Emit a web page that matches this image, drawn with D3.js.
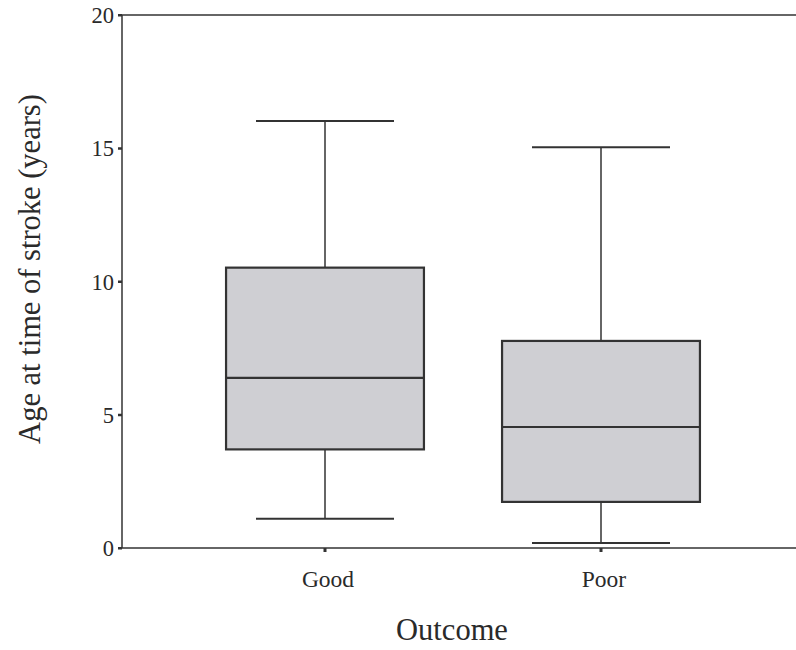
<!DOCTYPE html>
<html>
<head>
<meta charset="utf-8">
<script src="https://cdn.jsdelivr.net/npm/d3@7"></script>
<style>
  html, body { margin: 0; padding: 0; background: #fff; }
  svg text { font-family: "Liberation Serif", "Times New Roman", serif; fill: #2a2a2a; }
</style>
</head>
<body>
<svg id="chart" width="796" height="650"></svg>
<script>
const categories = ["Good", "Poor"];
const whiskerLow  = [1.1, 0.19];
const q1Values    = [3.7, 1.73];
const medians     = [6.38, 4.54];
const q3Values    = [10.52, 7.77];
const whiskerHigh = [16.02, 15.04];
const yTicks = [0, 5, 10, 15, 20];

(function () {
const svg = d3.select("#chart");
const mLeft = 122, mRight = 796, mTop = 15, mBottom = 548;

const y = d3.scaleLinear().domain([0, 20]).range([mBottom, mTop]);
const x = d3.scaleBand().domain(categories).range([187, 739]).padding(0);
const bw = x.bandwidth();
const boxW = bw * 0.717;
const capW = bw * 0.5;

const data = categories.map((c, i) => ({
  c, lo: whiskerLow[i], q1: q1Values[i], med: medians[i], q3: q3Values[i], hi: whiskerHigh[i]
}));

const stroke = "#333";

// frame lines: left axis, top, bottom
svg.append("line").attr("x1", mLeft).attr("x2", mLeft).attr("y1", y(20)).attr("y2", y(0))
  .attr("stroke", stroke).attr("stroke-width", 1.5);
svg.append("line").attr("x1", mLeft).attr("x2", mRight).attr("y1", y(20)).attr("y2", y(20))
  .attr("stroke", stroke).attr("stroke-width", 1.5);
svg.append("line").attr("x1", mLeft).attr("x2", mRight).attr("y1", y(0)).attr("y2", y(0))
  .attr("stroke", stroke).attr("stroke-width", 1.5);

// y ticks
const yt = svg.append("g");
yt.selectAll("rect").data(yTicks).join("rect")
  .attr("x", mLeft - 4).attr("y", d => y(d) - 1).attr("width", 4).attr("height", 2.5)
  .attr("fill", stroke);
yt.selectAll("text").data(yTicks).join("text")
  .attr("x", mLeft - 8).attr("y", d => y(d)).attr("dy", "0.36em")
  .attr("text-anchor", "end").attr("font-size", 22.5).text(d => d);

// x ticks
const xt = svg.append("g");
xt.selectAll("rect").data(categories).join("rect")
  .attr("x", d => x(d) + bw / 2 - 1.5).attr("y", y(0)).attr("width", 3).attr("height", 4)
  .attr("fill", stroke);
xt.selectAll("text").data(categories).join("text")
  .attr("x", d => x(d) + bw / 2 + 3).attr("y", y(0) + 39)
  .attr("text-anchor", "middle").attr("font-size", 23.5).text(d => d);

// boxes
const g = svg.append("g").selectAll("g").data(data).join("g");
const cx = d => x(d.c) + bw / 2;
g.append("line").attr("x1", cx).attr("x2", cx).attr("y1", d => y(d.hi)).attr("y2", d => y(d.q3))
  .attr("stroke", stroke).attr("stroke-width", 1.5);
g.append("line").attr("x1", cx).attr("x2", cx).attr("y1", d => y(d.q1)).attr("y2", d => y(d.lo))
  .attr("stroke", stroke).attr("stroke-width", 1.5);
g.append("line").attr("x1", d => cx(d) - capW / 2).attr("x2", d => cx(d) + capW / 2)
  .attr("y1", d => y(d.hi)).attr("y2", d => y(d.hi)).attr("stroke", stroke).attr("stroke-width", 2);
g.append("line").attr("x1", d => cx(d) - capW / 2).attr("x2", d => cx(d) + capW / 2)
  .attr("y1", d => y(d.lo)).attr("y2", d => y(d.lo)).attr("stroke", stroke).attr("stroke-width", 2);
g.append("rect").attr("x", d => cx(d) - boxW / 2).attr("width", boxW)
  .attr("y", d => y(d.q3)).attr("height", d => y(d.q1) - y(d.q3))
  .attr("fill", "#cfcfd3").attr("stroke", stroke).attr("stroke-width", 2.2);
g.append("line").attr("x1", d => cx(d) - boxW / 2).attr("x2", d => cx(d) + boxW / 2)
  .attr("y1", d => y(d.med)).attr("y2", d => y(d.med)).attr("stroke", stroke).attr("stroke-width", 2.2);

// titles
svg.append("text").attr("x", 452).attr("y", 640).attr("text-anchor", "middle")
  .attr("font-size", 30.5).text("Outcome");
svg.append("text").attr("transform", "translate(40,269) rotate(-90)").attr("text-anchor", "middle")
  .attr("font-size", 30.5).text("Age at time of stroke (years)");
})();
</script>
</body>
</html>
